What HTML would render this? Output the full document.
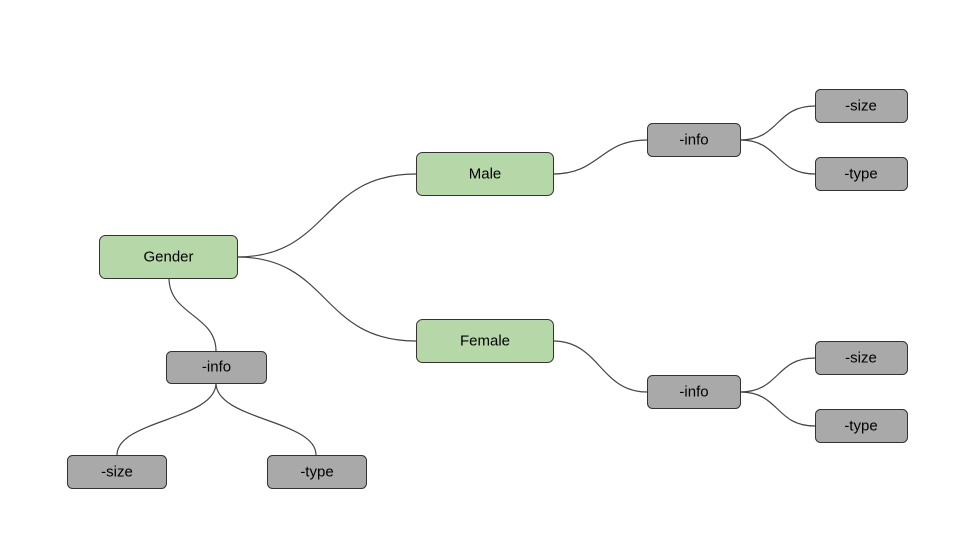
<!DOCTYPE html>
<html><head><style>
body{margin:0;width:960px;height:540px;background:#fff;overflow:hidden}
svg{display:block}
text{font-family:"Liberation Sans",Arial,sans-serif;font-size:15px;text-anchor:middle;dominant-baseline:central;fill:#000}
.g{fill:#b6d7a8;stroke:#333;stroke-width:1}
.k{fill:#a9a9a9;stroke:#333;stroke-width:1}
path{fill:none;stroke:#444;stroke-width:1.2}
</style></head><body>
<svg width="960" height="540" viewBox="0 0 960 540">
<path d="M237,257 C330,257 320,174 416,174"/>
<path d="M237,257 C330,257 320,341 416,341"/>
<path d="M169,278 C169,315 216,315 216,351"/>
<path d="M216,383 C216,420 117,420 117,455"/>
<path d="M216,383 C216,420 316,420 316,455"/>
<path d="M553,174 C600,174 600,140 647,140"/>
<path d="M740,140 C780,140 775,106 815,106"/>
<path d="M740,140 C780,140 775,174 815,174"/>
<path d="M553,341 C600,341 600,392 647,392"/>
<path d="M740,392 C780,392 775,358 815,358"/>
<path d="M740,392 C780,392 775,426 815,426"/>
<rect class="g" x="99.5" y="235.5" width="138" height="43" rx="6"/><text x="168.5" y="257">Gender</text>
<rect class="g" x="416.5" y="152.5" width="137" height="43" rx="6"/><text x="485" y="174">Male</text>
<rect class="g" x="416.5" y="319.5" width="137" height="43" rx="6"/><text x="485" y="341">Female</text>
<rect class="k" x="166.5" y="351.5" width="100" height="32" rx="5"/><text x="216.5" y="367">-info</text>
<rect class="k" x="67.5" y="455.5" width="99" height="33" rx="5"/><text x="117" y="472">-size</text>
<rect class="k" x="267.5" y="455.5" width="99" height="33" rx="5"/><text x="317" y="472">-type</text>
<rect class="k" x="647.5" y="123.5" width="93" height="33" rx="5"/><text x="694" y="140">-info</text>
<rect class="k" x="815.5" y="89.5" width="92" height="33" rx="5"/><text x="861" y="106">-size</text>
<rect class="k" x="815.5" y="157.5" width="92" height="33" rx="5"/><text x="861" y="174">-type</text>
<rect class="k" x="647.5" y="375.5" width="93" height="33" rx="5"/><text x="694" y="392">-info</text>
<rect class="k" x="815.5" y="341.5" width="92" height="33" rx="5"/><text x="861" y="358">-size</text>
<rect class="k" x="815.5" y="409.5" width="92" height="33" rx="5"/><text x="861" y="426">-type</text>
</svg>
</body></html>
